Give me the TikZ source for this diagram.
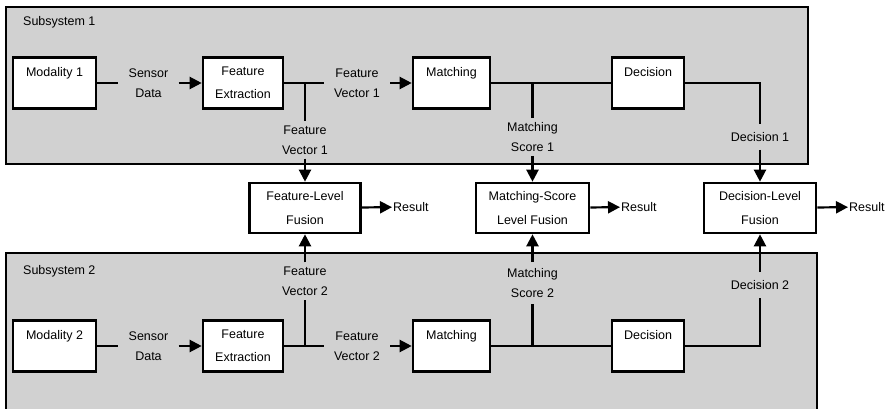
\documentclass[tikz,border=0pt]{standalone}
\usepackage{fontspec}
\setmainfont{Liberation Sans}
\usetikzlibrary{arrows.meta}
\definecolor{panel}{gray}{0.82}
\begin{document}
\begin{tikzpicture}[x=1pt,y=-1pt,
  txt/.style={font=\fontsize{12.5}{20}\selectfont},
  panelbox/.style={draw=black,line width=1.8pt,fill=panel},
  stage/.style={draw=black,line width=2.6pt,fill=white,inner sep=0pt,
    minimum height=51pt,align=center,
    font=\fontsize{12.5}{23}\selectfont},
  fusion/.style={draw=black,line width=2.6pt,fill=white,inner sep=0pt,
    minimum height=50pt,align=center,
    font=\fontsize{12.5}{24}\selectfont},
  lab/.style={txt,align=center,inner xsep=10pt,inner ysep=4pt},
  wire/.style={line width=2.2pt},
  arr/.style={wire,-{Triangle[length=12pt,width=12pt]}},
]
\useasboundingbox (0,0) rectangle (887,409);

% subsystem panels
\draw[panelbox] (6,7) rectangle (808,164);
\draw[panelbox] (6,253) rectangle (817,425);
\node[txt,anchor=west,inner sep=0pt] (sub1) at (23,22) {Subsystem 1};
\node[txt,anchor=west,inner sep=0pt] (sub2) at (23,271) {Subsystem 2};

% ---- subsystem 1 chain
\node[stage,minimum width=83pt] (mod1) at (54.5,83) {Modality 1\\\mbox{}};
\node[stage,minimum width=80pt] (fe1)  at (243,83)  {Feature\\Extraction};
\node[stage,minimum width=77pt] (mat1) at (451.5,83) {Matching\\\mbox{}};
\node[stage,minimum width=72pt] (dec1) at (648,83)  {Decision\\\mbox{}};

\node[lab] (sd1)  at (148.5,83) {Sensor\\Data};
\node[lab] (fvh1) at (357,83)   {Feature\\Vector 1};
\node[lab] (fvv1) at (305,140)  {Feature\\Vector 1};
\node[lab] (ms1)  at (532.5,137) {Matching\\Score 1};
\node[lab,inner ysep=8pt] (d1) at (760,137) {Decision 1};
\coordinate (j1) at (305,83);
\coordinate (j2) at (532.5,83);

% ---- fusion row
\node[fusion,minimum width=111pt] (flf) at (305,208)   {Feature-Level\\Fusion};
\node[fusion,minimum width=113pt] (msf) at (532.5,208) {Matching-Score\\Level Fusion};
\node[fusion,minimum width=112pt] (dlf) at (760,208)   {Decision-Level\\Fusion};
\node[txt,anchor=west,inner sep=1pt] (r1) at (392,207) {Result};
\node[txt,anchor=west,inner sep=1pt] (r2) at (620,207) {Result};
\node[txt,anchor=west,inner sep=1pt] (r3) at (848,207) {Result};

% ---- subsystem 2 chain
\node[stage,minimum width=83pt] (mod2) at (54.5,346) {Modality 2\\\mbox{}};
\node[stage,minimum width=80pt] (fe2)  at (243,346)  {Feature\\Extraction};
\node[stage,minimum width=77pt] (mat2) at (451.5,346) {Matching\\\mbox{}};
\node[stage,minimum width=72pt] (dec2) at (648,346)  {Decision\\\mbox{}};

\node[lab] (sd2)  at (148.5,346) {Sensor\\Data};
\node[lab] (fvh2) at (357,346)   {Feature\\Vector 2};
\node[lab] (fvv2) at (305,281)   {Feature\\Vector 2};
\node[lab,inner ysep=6pt] (ms2) at (532.5,283) {Matching\\Score 2};
\node[lab,inner ysep=8pt] (d2) at (760,285) {Decision 2};
\coordinate (j3) at (305,346);
\coordinate (j4) at (532.5,346);

% ---- connectors, subsystem 1
\draw[wire] (mod1) -- (sd1);
\draw[arr]  (sd1) -- (fe1);
\draw[wire] (fe1) -- (fvh1);
\draw[arr]  (fvh1) -- (mat1);
\draw[wire] (j1) -- (fvv1);
\draw[arr]  (fvv1) -- (flf);
\draw[wire] (mat1) -- (dec1);
\draw[wire] (j2) -- (ms1);
\draw[arr]  (ms1) -- (msf);
\draw[wire] (dec1) -| (d1);
\draw[arr]  (d1) -- (dlf);

% ---- connectors, subsystem 2
\draw[wire] (mod2) -- (sd2);
\draw[arr]  (sd2) -- (fe2);
\draw[wire] (fe2) -- (fvh2);
\draw[arr]  (fvh2) -- (mat2);
\draw[wire] (j3) -- (fvv2);
\draw[arr]  (fvv2) -- (flf);
\draw[wire] (mat2) -- (dec2);
\draw[wire] (j4) -- (ms2);
\draw[arr]  (ms2) -- (msf);
\draw[wire] (dec2) -| (d2);
\draw[arr]  (d2) -- (dlf);

% ---- fusion outputs
\draw[arr] (flf) -- (r1);
\draw[arr] (msf) -- (r2);
\draw[arr] (dlf) -- (r3);
\end{tikzpicture}
\end{document}
